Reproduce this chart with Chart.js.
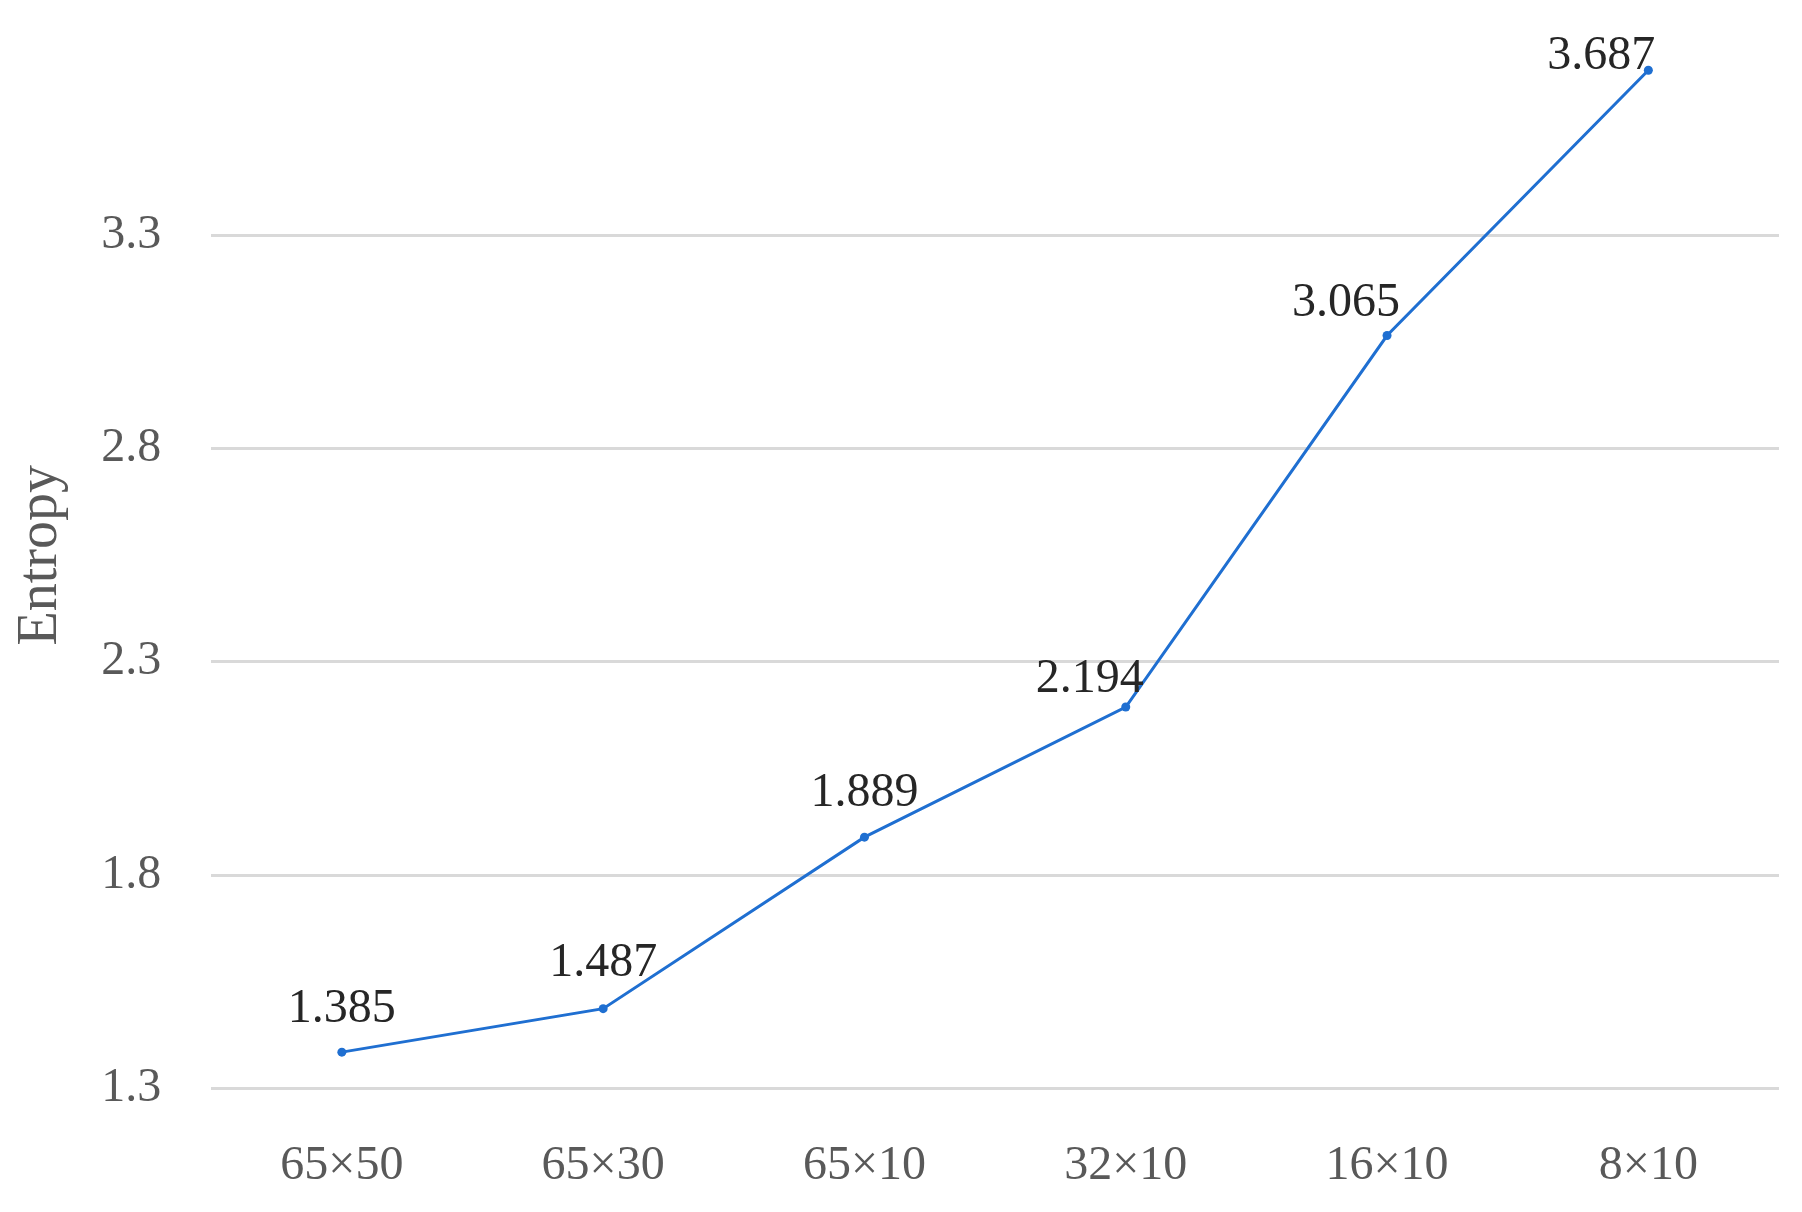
<!DOCTYPE html>
<html>
<head>
<meta charset="utf-8">
<script src="https://cdn.jsdelivr.net/npm/chart.js@4.4.1/dist/chart.umd.min.js"></script>
<style>
  html, body { margin: 0; padding: 0; background: #ffffff; }
  #wrap { width: 1802px; height: 1212px; position: relative; }
</style>
</head>
<body>
<div id="wrap"><canvas id="c" width="1802" height="1212"></canvas></div>
<script>
const categories = ['65×50', '65×30', '65×10', '32×10', '16×10', '8×10'];
const entropyValues = [1.385, 1.487, 1.889, 2.194, 3.065, 3.687];
const yTickValues = [1.3, 1.8, 2.3, 2.8, 3.3];
const yAxisTitle = 'Entropy';

// label placement relative to each point (style only)
const labelDx = [0, 0, 0, -36, -41, -47];
const labelDy = [-43, -45, -44, -28, -32, -14];

const valueLabels = {
  id: 'valueLabels',
  afterDatasetsDraw(chart) {
    const ctx = chart.ctx;
    const meta = chart.getDatasetMeta(0);
    ctx.save();
    ctx.font = '48px "Liberation Serif", serif';
    ctx.fillStyle = '#262626';
    ctx.textAlign = 'center';
    ctx.textBaseline = 'middle';
    meta.data.forEach((el, i) => {
      ctx.fillText(entropyValues[i].toFixed(3), el.x + labelDx[i], el.y + labelDy[i]);
    });
    ctx.restore();
  }
};

new Chart(document.getElementById('c'), {
  type: 'line',
  data: {
    labels: categories,
    datasets: [{
      data: entropyValues,
      borderColor: '#1f6fd1',
      backgroundColor: '#1f6fd1',
      borderWidth: 3,
      pointRadius: 4.5,
      pointBackgroundColor: '#1f6fd1',
      pointBorderWidth: 0,
      tension: 0
    }]
  },
  options: {
    responsive: false,
    animation: false,
    layout: { padding: { left: 8, right: 23, top: 22, bottom: -32 } },
    plugins: { legend: { display: false }, tooltip: { enabled: false } },
    scales: {
      x: {
        offset: true,
        grid: { display: false, drawTicks: false },
        border: { display: false },
        ticks: {
          color: '#595959',
          padding: 49,
          font: { family: '"Liberation Serif", serif', size: 48 }
        }
      },
      y: {
        min: 1.3,
        max: 3.8,
        afterBuildTicks(scale) {
          scale.ticks = yTickValues.concat([3.8]).map(v => ({ value: v }));
        },
        grid: {
          drawTicks: true,
          tickLength: 50,
          tickColor: 'rgba(0,0,0,0)',
          lineWidth: 3,
          color: (c) => (c.tick && yTickValues.some(v => Math.abs(v - c.tick.value) < 1e-6)) ? '#d9d9d9' : 'rgba(0,0,0,0)'
        },
        border: { display: false },
        title: {
          display: true,
          text: yAxisTitle,
          color: '#595959',
          padding: { top: 0, bottom: 26 },
          font: { family: '"Liberation Serif", serif', size: 56 }
        },
        ticks: {
          color: '#595959',
          padding: 0,
          font: { family: '"Liberation Serif", serif', size: 48, lineHeight: 0.8 },
          callback: (v) => yTickValues.some(t => Math.abs(t - v) < 1e-6) ? Number(v).toFixed(1) : ''
        }
      }
    }
  },
  plugins: [valueLabels]
});
</script>
</body>
</html>
